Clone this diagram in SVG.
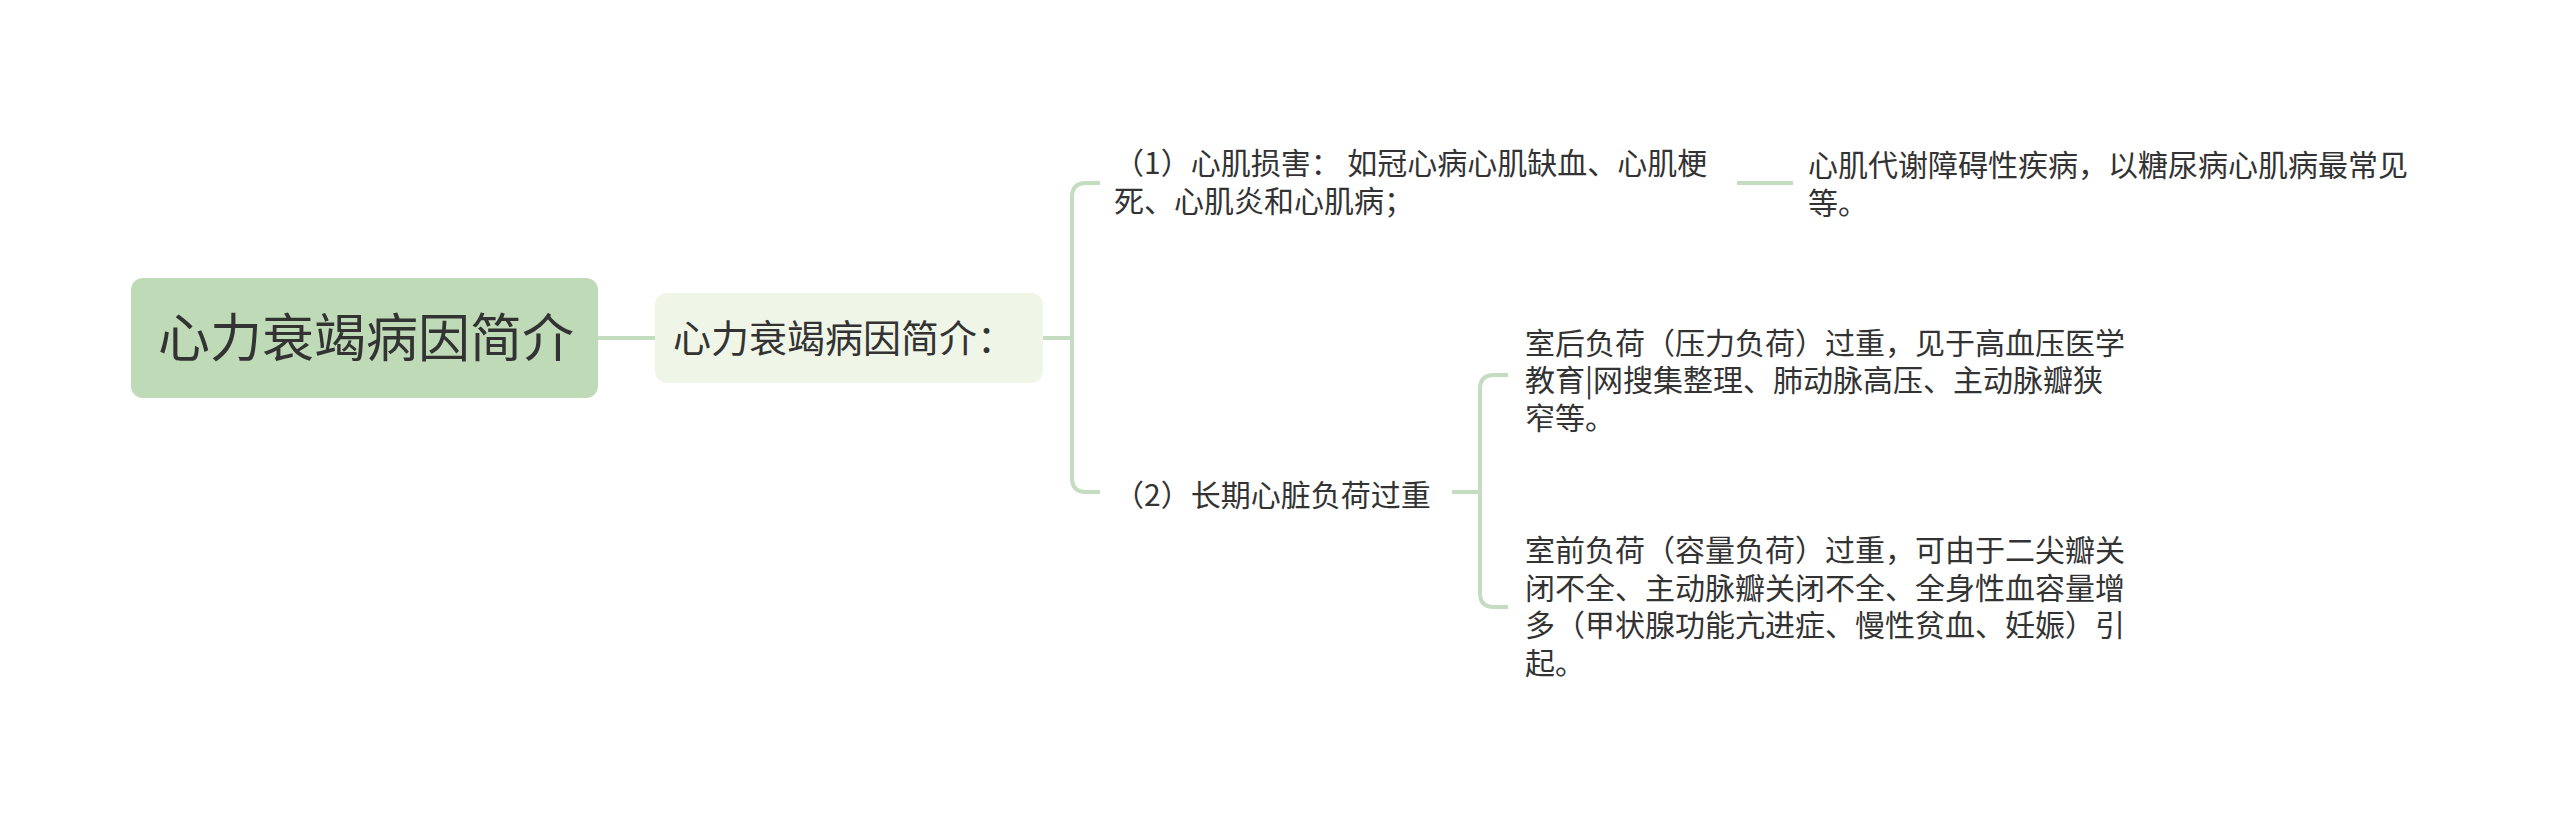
<svg xmlns="http://www.w3.org/2000/svg" width="2560" height="832" viewBox="0 0 2560 832">
<style>
text{font-family:"Noto Sans CJK SC","Noto Sans",sans-serif;fill:#333333}
.t{font-size:30px}
.l1{font-size:38px}
.root{font-size:52px}
.conn{fill:none;stroke:#c4dcbf;stroke-width:4;stroke-linecap:butt}
</style>
<rect width="2560" height="832" fill="#ffffff"/>
<g id="connectors">
<line class="conn" x1="597" y1="338" x2="655" y2="338"/>
<line class="conn" x1="1043" y1="338" x2="1072" y2="338"/>
<path class="conn" d="M1100,183 L1086,183 Q1072,183 1072,197 L1072,478 Q1072,492 1086,492 L1100,492"/>
<line class="conn" x1="1737" y1="183" x2="1793" y2="183"/>
<line class="conn" x1="1452" y1="492" x2="1480" y2="492"/>
<path class="conn" d="M1508,375 L1494,375 Q1480,375 1480,389 L1480,593 Q1480,607 1494,607 L1508,607"/>
</g>
<g id="root">
<rect x="131" y="278" width="467" height="120" rx="12" fill="#bfdab7"/>
<text class="root" x="366" y="357" text-anchor="middle">心力衰竭病因简介</text>
</g>
<g id="n1">
<rect x="655" y="293" width="388" height="90" rx="12" fill="#eff5e7"/>
<text class="l1" x="673" y="352">心力衰竭病因简介：</text>
</g>
<g id="n1-1">
<text class="t" x="1114" y="174">（1）心肌损害： 如冠心病心肌缺血、心肌梗</text>
<text class="t" x="1114" y="212">死、心肌炎和心肌病；</text>
</g>
<g id="n1-1-1">
<text class="t" x="1808" y="176">心肌代谢障碍性疾病，以糖尿病心肌病最常见</text>
<text class="t" x="1808" y="214">等。</text>
</g>
<g id="n1-2">
<text class="t" x="1114" y="506">（2）长期心脏负荷过重</text>
</g>
<g id="n1-2-1">
<text class="t" x="1525" y="354">室后负荷（压力负荷）过重，见于高血压医学</text>
<text class="t" x="1525" y="391">教育|网搜集整理、肺动脉高压、主动脉瓣狭</text>
<text class="t" x="1525" y="429">窄等。</text>
</g>
<g id="n1-2-2">
<text class="t" x="1525" y="561">室前负荷（容量负荷）过重，可由于二尖瓣关</text>
<text class="t" x="1525" y="599">闭不全、主动脉瓣关闭不全、全身性血容量增</text>
<text class="t" x="1525" y="636">多（甲状腺功能亢进症、慢性贫血、妊娠）引</text>
<text class="t" x="1525" y="674">起。</text>
</g>
</svg>
